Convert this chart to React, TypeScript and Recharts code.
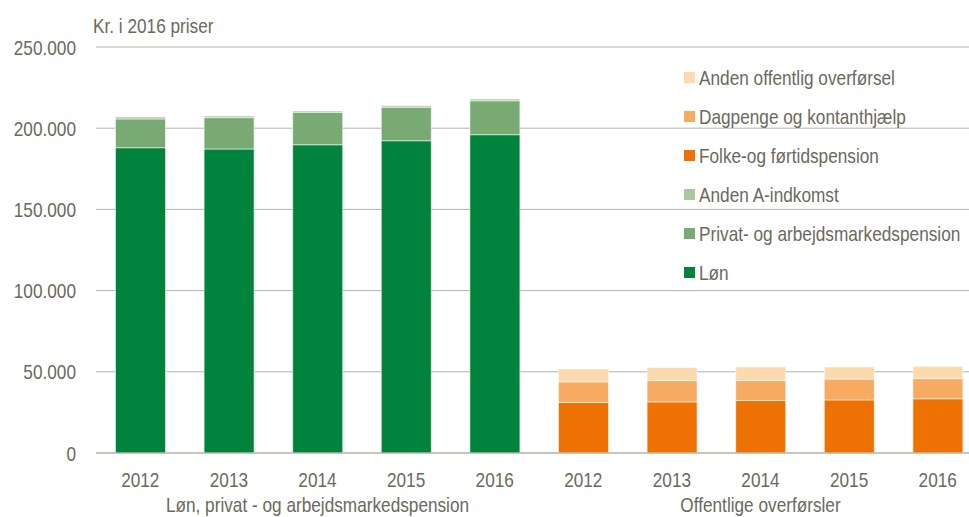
import { BarChart, Bar, XAxis, YAxis, CartesianGrid, Legend } from "recharts";

const years = ["2012", "2013", "2014", "2015", "2016"];
const groupLabels = ["Løn, privat - og arbejdsmarkedspension", "Offentlige overførsler"];

// green group
const lon = [188000, 187200, 189800, 192300, 196000];
const privatPension = [17700, 19300, 20000, 20600, 20900];
const andenA = [1200, 1000, 800, 1000, 1100];
// orange group
const folke = [31100, 31500, 32300, 32700, 33400];
const dagpenge = [12700, 13100, 12300, 12800, 12400];
const andenOff = [8000, 8000, 8400, 7500, 7400];

const yTicks = [0, 50000, 100000, 150000, 200000, 250000];

const series = [
  { key: "lon", name: "Løn", color: "#00843d" },
  { key: "privat", name: "Privat- og arbejdsmarkedspension", color: "#79aa73" },
  { key: "andenA", name: "Anden A-indkomst", color: "#a9c9a2" },
  { key: "folke", name: "Folke-og førtidspension", color: "#ee7203" },
  { key: "dagpenge", name: "Dagpenge og kontanthjælp", color: "#f6aa62" },
  { key: "andenOff", name: "Anden offentlig overførsel", color: "#fdd9ae" },
];

const data = [
  ...years.map((y, i) => ({ year: y, group: 0, lon: lon[i], privat: privatPension[i], andenA: andenA[i] })),
  ...years.map((y, i) => ({ year: y, group: 1, folke: folke[i], dagpenge: dagpenge[i], andenOff: andenOff[i] })),
];

// no Arial Narrow here, so squeeze Liberation Sans horizontally
const FONT = "'Liberation Sans', Arial, sans-serif";
const SIZE = 21;
const NARROW = 0.82;
const TEXT = "#6b695c";
const GRID = "#b4b2a4";

const fmt = (v: number) => v.toLocaleString("da-DK");

function NarrowText({ x, y, anchor, children }: any) {
  return (
    <text
      transform={`translate(${x},${y}) scale(${NARROW},1)`}
      textAnchor={anchor}
      fontSize={SIZE}
      fill={TEXT}
      fontFamily={FONT}
    >
      {children}
    </text>
  );
}

function XTick(props: any) {
  const { x, y, payload } = props;
  const i = payload.index;
  return (
    <g>
      <NarrowText x={x} y={y + 34} anchor="middle">
        {payload.value}
      </NarrowText>
      {i % 5 === 2 && (
        <NarrowText x={x} y={y + 59} anchor="middle">
          {groupLabels[Math.floor(i / 5)]}
        </NarrowText>
      )}
    </g>
  );
}

function YTick(props: any) {
  const { x, y, payload } = props;
  return (
    <NarrowText x={x} y={y + 7.5} anchor="end">
      {fmt(payload.value)}
    </NarrowText>
  );
}

function LegendBox() {
  const items = [...series].reverse();
  return (
    <div style={{ fontFamily: FONT, fontSize: SIZE, color: TEXT }}>
      {items.map((s) => (
        <div key={s.key} style={{ display: "flex", alignItems: "center", height: 39, whiteSpace: "nowrap" }}>
          <span style={{ width: 11, height: 11, background: s.color, marginRight: 4, flex: "none" }} />
          <span style={{ display: "inline-block", transform: `scaleX(${NARROW})`, transformOrigin: "left center" }}>
            {s.name}
          </span>
        </div>
      ))}
    </div>
  );
}

export default function App() {
  return (
    <div style={{ position: "absolute", left: 0, top: 0, width: 969, height: 517, overflow: "hidden", background: "#fff" }}>
      <svg width={300} height={40} style={{ position: "absolute", left: 0, top: 0 }}>
        <NarrowText x={93} y={33} anchor="start">
          Kr. i 2016 priser
        </NarrowText>
      </svg>
      <BarChart
        width={982}
        height={517}
        data={data}
        margin={{ top: 47, right: 0, bottom: 0, left: 0 }}
        barCategoryGap="22%"
        style={{ position: "absolute", left: 0, top: 0 }}
      >
        <CartesianGrid vertical={false} stroke={GRID} />
        <XAxis
          dataKey="year"
          height={64}
          interval={0}
          tickLine={false}
          tickSize={0}
          tickMargin={0}
          axisLine={{ stroke: GRID }}
          tick={<XTick />}
        />
        <YAxis
          width={96}
          domain={[0, 250000]}
          ticks={yTicks}
          axisLine={false}
          tickLine={false}
          tickMargin={14}
          tick={<YTick />}
        />
        <Legend
          layout="horizontal"
          verticalAlign="middle"
          content={<LegendBox />}
          wrapperStyle={{ position: "absolute", left: 684, top: 58, width: 290, height: 234 }}
        />
        {series.map((s) => (
          <Bar
            key={s.key}
            dataKey={s.key}
            name={s.name}
            stackId="a"
            fill={s.color}
            stroke="rgba(255,255,255,0.55)"
            strokeWidth={1}
            isAnimationActive={false}
          />
        ))}
      </BarChart>
    </div>
  );
}
